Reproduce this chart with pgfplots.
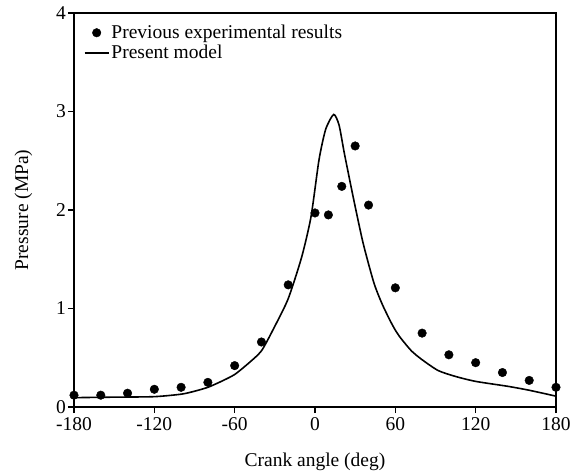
\documentclass[border=0pt]{standalone}
\usepackage{pgfplots}
\pgfplotsset{compat=1.18}
\usepackage{fontspec}
\setmainfont{Liberation Serif}
\begin{document}
\begin{tikzpicture}
\begin{axis}[
  name=ax,
  scale only axis,
  width=482bp, height=394bp,
  xmin=-180, xmax=180, ymin=0, ymax=4,
  xtick={-180,-120,-60,0,60,120,180},
  ytick={0,1,2,3,4},
  tick pos=left,
  tick align=outside,
  major tick length=6bp,
  axis line style={line width=1.8bp},
  every tick/.style={line width=1.4bp, black},
  font=\fontsize{19.5bp}{23bp}\selectfont,
  tick label style={font=\fontsize{19.5bp}{23bp}\selectfont, inner sep=2bp},
  xticklabel style={yshift=-2.5bp},
  /pgf/number format/assume math mode=true,
  xlabel={Crank angle (deg)},
  ylabel={Pressure (MPa)},
  xlabel style={at={(axis description cs:0.5,-0.14)},anchor=center},
  ylabel style={at={(axis description cs:-0.105,0.5)},anchor=center},
  legend style={draw=none, fill=none, at={(axis description cs:0.018,0.977)}, anchor=north west,
    font=\fontsize{19.5bp}{23bp}\selectfont, row sep=1bp, inner sep=1bp},
  legend cell align=left,
  legend image code/.code={\draw[mark repeat=2,mark phase=2,#1] plot coordinates {(0bp,0bp)(12bp,0bp)(24bp,0bp)};},
]
\addplot[only marks, mark=*, mark size=4.3bp, black] coordinates {
(-180,0.12) (-160,0.12) (-140,0.14) (-120,0.18) (-100,0.20) (-80,0.25)
(-60,0.42) (-40,0.66) (-20,1.24) (0,1.97) (10,1.95) (20,2.24) (30,2.65)
(40,2.05) (60,1.21) (80,0.75) (100,0.53) (120,0.45) (140,0.35) (160,0.27) (180,0.20)
};
\addlegendentry{Previous experimental results}
\addplot[black, line width=1.6bp, smooth, tension=0.4] coordinates {
(-180,0.095) (-150,0.10) (-120,0.105) (-100,0.13) (-90,0.16) (-80,0.20)
(-70,0.26) (-60,0.33) (-50,0.44) (-40,0.57) (-30,0.82) (-20,1.10) (-10,1.52)
(-3,1.93) (3,2.51) (8,2.82) (14,2.97) (18,2.86) (22,2.57) (29,2.10) (36,1.66)
(44,1.26) (50,1.05) (56,0.88) (60,0.78) (64,0.70) (72,0.57) (80,0.48) (92,0.37)
(105,0.31) (120,0.26) (144,0.21) (160,0.17) (180,0.11)
};
\addlegendentry{Present model}
\end{axis}
\path[use as bounding box] ([shift={(-74bp,-67bp)}]ax.south west) rectangle ([shift={(20bp,13bp)}]ax.north east);
\end{tikzpicture}
\end{document}
